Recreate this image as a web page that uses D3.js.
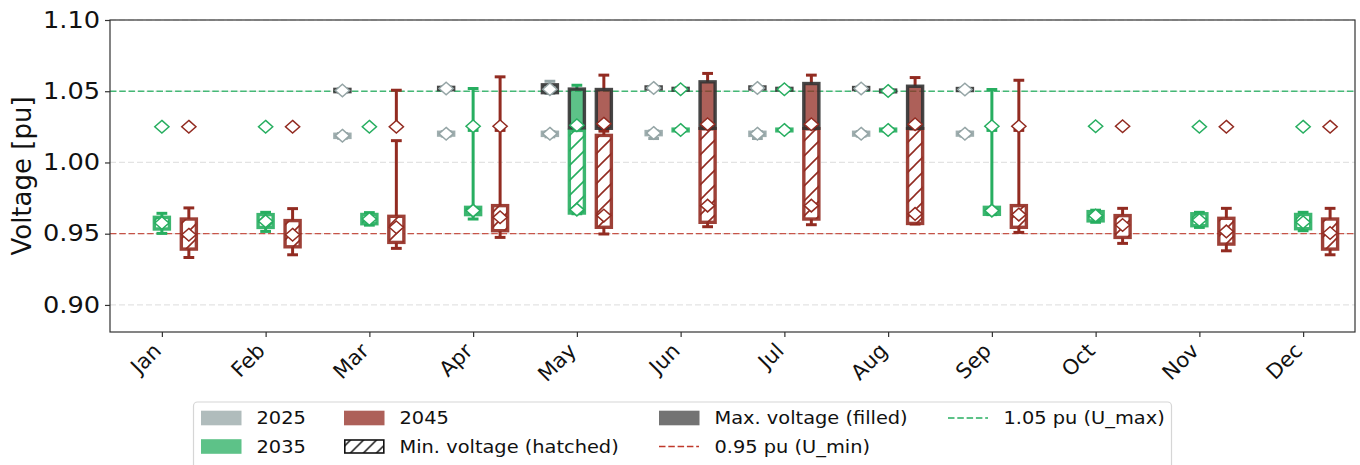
<!DOCTYPE html>
<html>
<head>
<meta charset="utf-8">
<script src="https://cdn.jsdelivr.net/npm/d3@7"></script>
<style>
  html, body { margin: 0; padding: 0; background: #fff; }
  text { font-family: "DejaVu Sans", sans-serif; fill: #111; }
</style>
</head>
<body>
<div id="chart"></div>
<script>
// Categories
const months = ['Jan', 'Feb', 'Mar', 'Apr', 'May', 'Jun', 'Jul', 'Aug', 'Sep', 'Oct', 'Nov', 'Dec'];
const scenarios = ['2025', '2035', '2045'];
const scenarioColors = ['#95a5a6', '#27ae60', '#922b21'];
const yTicks = [0.90, 0.95, 1.00, 1.05, 1.10];
const uMax = 1.05;
const uMin = 0.95;

// Box stats per month: [whisker low, q1, q3, whisker high, mean]
const max2025 = [null, null,
  [1.0495, 1.0497, 1.0513, 1.0515, 1.0505],
  [1.0508, 1.0511, 1.0527, 1.0530, 1.0519],
  [1.0485, 1.0490, 1.0545, 1.0570, 1.0514],
  [1.0513, 1.0516, 1.0530, 1.0533, 1.0523],
  [1.0513, 1.0516, 1.0530, 1.0533, 1.0523],
  [1.0510, 1.0512, 1.0526, 1.0529, 1.0519],
  [1.0503, 1.0505, 1.0519, 1.0521, 1.0512],
  null, null, null];
const min2025 = [null, null,
  [1.0170, 1.0176, 1.0198, 1.0203, 1.0188],
  [1.0185, 1.0192, 1.0212, 1.0216, 1.0202],
  [1.0180, 1.0190, 1.0212, 1.0216, 1.0202],
  [1.0168, 1.0195, 1.0217, 1.0221, 1.0207],
  [1.0168, 1.0190, 1.0212, 1.0216, 1.0202],
  [1.0185, 1.0192, 1.0212, 1.0216, 1.0202],
  [1.0185, 1.0192, 1.0212, 1.0216, 1.0202],
  null, null, null];

const max2035 = [
  [1.0251, 1.0251, 1.0251, 1.0251, 1.0251],
  [1.0251, 1.0251, 1.0251, 1.0251, 1.0251],
  [1.0251, 1.0251, 1.0251, 1.0251, 1.0251],
  [1.0250, 1.0252, 1.0252, 1.0519, 1.0254],
  [1.0240, 1.0243, 1.0515, 1.0542, 1.0261],
  [1.0505, 1.0508, 1.0520, 1.0523, 1.0514],
  [1.0505, 1.0508, 1.0520, 1.0523, 1.0514],
  [1.0493, 1.0496, 1.0508, 1.0511, 1.0502],
  [1.0250, 1.0252, 1.0252, 1.0512, 1.0254],
  [1.0254, 1.0254, 1.0254, 1.0254, 1.0254],
  [1.0251, 1.0251, 1.0251, 1.0251, 1.0251],
  [1.0251, 1.0251, 1.0251, 1.0251, 1.0251]];
const min2035 = [
  [0.9502, 0.9533, 0.9615, 0.9643, 0.9575],
  [0.9516, 0.9544, 0.9634, 0.9650, 0.9587],
  [0.9560, 0.9570, 0.9635, 0.9648, 0.9603],
  [0.9603, 0.9634, 0.9685, 1.0225, 0.9662],
  [0.9640, 0.9645, 1.0225, 1.0232, 0.9669],
  [1.0220, 1.0222, 1.0234, 1.0236, 1.0228],
  [1.0220, 1.0222, 1.0234, 1.0236, 1.0228],
  [1.0220, 1.0222, 1.0234, 1.0236, 1.0228],
  [0.9634, 0.9636, 0.9685, 1.0225, 0.9662],
  [0.9580, 0.9590, 0.9655, 0.9665, 0.9627],
  [0.9544, 0.9556, 0.9640, 0.9650, 0.9596],
  [0.9521, 0.9535, 0.9635, 0.9650, 0.9580]];

const max2045 = [
  [1.0251, 1.0251, 1.0251, 1.0251, 1.0251],
  [1.0251, 1.0251, 1.0251, 1.0251, 1.0251],
  [1.0250, 1.0252, 1.0252, 1.0507, 1.0251],
  [1.0250, 1.0252, 1.0252, 1.0601, 1.0254],
  [1.0237, 1.0240, 1.0512, 1.0613, 1.0272],
  [1.0237, 1.0240, 1.0566, 1.0625, 1.0268],
  [1.0237, 1.0240, 1.0554, 1.0613, 1.0268],
  [1.0237, 1.0240, 1.0535, 1.0596, 1.0268],
  [1.0250, 1.0252, 1.0252, 1.0577, 1.0254],
  [1.0254, 1.0254, 1.0254, 1.0254, 1.0254],
  [1.0251, 1.0251, 1.0251, 1.0251, 1.0251],
  [1.0251, 1.0251, 1.0251, 1.0251, 1.0251]];
const min2045 = [
  [0.9333, 0.9392, 0.9603, 0.9681, 0.9493],
  [0.9352, 0.9408, 0.9592, 0.9676, 0.9493],
  [0.9397, 0.9439, 0.9622, 1.0153, 0.9545],
  [0.9474, 0.9521, 0.9697, 1.0225, 0.9615],
  [0.9498, 0.9545, 1.0190, 1.0220, 0.9627],
  [0.9549, 0.9580, 1.0237, 1.0237, 0.9697],
  [0.9563, 0.9603, 1.0237, 1.0237, 0.9697],
  [0.9568, 0.9572, 1.0237, 1.0237, 0.9639],
  [0.9509, 0.9545, 0.9697, 1.0225, 0.9634],
  [0.9432, 0.9474, 0.9627, 0.9678, 0.9561],
  [0.9380, 0.9427, 0.9608, 0.9678, 0.9516],
  [0.9352, 0.9392, 0.9603, 0.9678, 0.9505]];

const maxSeries = [max2025, max2035, max2045];
const minSeries = [min2025, min2035, min2045];
const offsets = [-0.26, 0, 0.26];

const width = 1360;
const height = 465;
const margin = { top: 20, right: 5, bottom: 133, left: 110 };
// the picture is a bit wider than tall in its glyphs
const stretch = 1.14;

const svg = d3.select('#chart')
  .append('svg')
  .attr('width', width)
  .attr('height', height)
  .style('background', '#fff');

// Hatch patterns
const defs = svg.append('defs');
const addHatch = (id, color, size, sw) => {
  const p = defs.append('pattern')
    .attr('id', id)
    .attr('patternUnits', 'userSpaceOnUse')
    .attr('width', size)
    .attr('height', size);
  p.append('rect').attr('width', size).attr('height', size).attr('fill', '#fff');
  p.append('path')
    .attr('d', `M0,${size} L${size},0 M${-size / 4},${size / 4} L${size / 4},${-size / 4} M${size * 3 / 4},${size * 5 / 4} L${size * 5 / 4},${size * 3 / 4}`)
    .attr('stroke', color)
    .attr('stroke-width', sw);
};
scenarioColors.forEach((c, i) => addHatch(`hatch-${i}`, c, 15, 1.6));
addHatch('hatch-legend', '#111', 13, 1.5);

// Scales
const x = d3.scaleLinear()
  .domain([-0.5, 11.5])
  .range([margin.left, width - margin.right]);

const y = d3.scaleLinear()
  .domain([0.881, 1.10])
  .range([height - margin.bottom, margin.top]);

// Grid
svg.append('g')
  .selectAll('line')
  .data(yTicks)
  .join('line')
  .attr('x1', margin.left)
  .attr('x2', width - margin.right)
  .attr('y1', d => y(d))
  .attr('y2', d => y(d))
  .attr('stroke', '#e3e3e3')
  .attr('stroke-width', 1.2)
  .attr('stroke-dasharray', '6,3');

// Limit lines
const limits = [
  { v: uMax, color: '#27ae60' },
  { v: uMin, color: '#c0392b' }
];
svg.append('g')
  .selectAll('line')
  .data(limits)
  .join('line')
  .attr('x1', margin.left)
  .attr('x2', width - margin.right)
  .attr('y1', d => y(d.v))
  .attr('y2', d => y(d.v))
  .attr('stroke', d => d.color)
  .attr('stroke-opacity', 0.85)
  .attr('stroke-width', 1.3)
  .attr('stroke-dasharray', '6.5,2.8');

// Boxes
const boxW = 0.145;
const capW = 0.075;
const plot = svg.append('g');

const drawBox = (s, i, kind, si) => {
  if (!s) return;
  const [lo, q1, q3, hi, mean] = s;
  const cx = x(i + offsets[si]);
  const bw = x(boxW) - x(0);
  const cw = x(capW) - x(0);
  const color = scenarioColors[si];
  const g = plot.append('g');

  // Whiskers and caps
  [[q3, hi], [q1, lo]].forEach(([a, b]) => {
    if (Math.abs(a - b) < 1e-6) return;
    g.append('line')
      .attr('x1', cx).attr('x2', cx)
      .attr('y1', y(a)).attr('y2', y(b))
      .attr('stroke', color)
      .attr('stroke-width', 3);
    g.append('line')
      .attr('x1', cx - cw / 2).attr('x2', cx + cw / 2)
      .attr('y1', y(b)).attr('y2', y(b))
      .attr('stroke', color)
      .attr('stroke-width', 3)
      .attr('stroke-linecap', 'square');
  });

  if (q3 - q1 > 1e-6) {
    const r = g.append('rect')
      .attr('x', cx - bw / 2)
      .attr('y', y(q3))
      .attr('width', bw)
      .attr('height', y(q1) - y(q3));
    if (kind === 'max') {
      r.attr('fill', color)
        .attr('fill-opacity', 0.75)
        .attr('stroke', '#333')
        .attr('stroke-opacity', 0.9)
        .attr('stroke-width', 3.4);
    } else {
      r.attr('fill', `url(#hatch-${si})`)
        .attr('stroke', color)
        .attr('stroke-opacity', 0.9)
        .attr('stroke-width', 3.4);
    }
  }
  return { cx, mean, color };
};

const means = [];
months.forEach((m, i) => {
  scenarios.forEach((sc, si) => {
    const a = drawBox(minSeries[si][i], i, 'min', si);
    if (a) means.push(a);
    const b = drawBox(maxSeries[si][i], i, 'max', si);
    if (b) means.push(b);
  });
});

// Mean markers
const dw = 7.1;
const dh = 6.3;
svg.append('g')
  .selectAll('path')
  .data(means)
  .join('path')
  .attr('d', d => {
    const cy = y(d.mean);
    return `M${d.cx},${cy - dh} L${d.cx + dw},${cy} L${d.cx},${cy + dh} L${d.cx - dw},${cy} Z`;
  })
  .attr('fill', '#fff')
  .attr('stroke', d => d.color)
  .attr('stroke-width', 1.5);

// Axes
const yAxis = svg.append('g')
  .attr('transform', `translate(${margin.left},0)`)
  .call(d3.axisLeft(y).tickValues(yTicks).tickFormat(d3.format('.2f')).tickSize(5));
yAxis.selectAll('text')
  .style('font-size', '22.5px')
  .attr('fill', '#111')
  .attr('x', 0)
  .attr('transform', `translate(-10,0) scale(${stretch},1)`);

const xAxis = svg.append('g')
  .attr('transform', `translate(0,${height - margin.bottom})`)
  .call(d3.axisBottom(x).tickValues(d3.range(months.length)).tickFormat(i => months[i]).tickSize(5));
xAxis.selectAll('text')
  .style('font-size', '21px')
  .attr('fill', '#111')
  .attr('text-anchor', 'end')
  .attr('y', 0)
  .attr('dy', '0.75em')
  .attr('transform', 'translate(-11,9) rotate(-45)');

[yAxis, xAxis].forEach(a => {
  a.select('.domain').remove();
  a.selectAll('.tick line').attr('stroke', '#333').attr('stroke-width', 1.2);
});

// Frame
svg.append('rect')
  .attr('x', margin.left)
  .attr('y', margin.top)
  .attr('width', width - margin.right - margin.left)
  .attr('height', height - margin.bottom - margin.top)
  .attr('fill', 'none')
  .attr('stroke', '#333')
  .attr('stroke-width', 1.2);

// Y label
svg.append('text')
  .attr('transform', `translate(31,${(margin.top + height - margin.bottom) / 2}) rotate(-90)`)
  .attr('text-anchor', 'middle')
  .style('font-size', '26px')
  .text('Voltage [pu]');

// Legend
const legend = svg.append('g');
legend.append('rect')
  .attr('x', 193.5)
  .attr('y', 402)
  .attr('width', 978)
  .attr('height', 80)
  .attr('rx', 4)
  .attr('fill', '#fff')
  .attr('stroke', '#d6d6d6')
  .attr('stroke-width', 1.2);

const legendItems = [
  { label: scenarios[0], type: 'patch', color: scenarioColors[0], col: 0, row: 0 },
  { label: scenarios[1], type: 'patch', color: scenarioColors[1], col: 0, row: 1 },
  { label: scenarios[2], type: 'patch', color: scenarioColors[2], col: 1, row: 0 },
  { label: 'Min. voltage (hatched)', type: 'hatch', col: 1, row: 1 },
  { label: 'Max. voltage (filled)', type: 'patch', color: '#444', col: 2, row: 0 },
  { label: '0.95 pu (U_min)', type: 'line', color: '#c0392b', col: 2, row: 1 },
  { label: '1.05 pu (U_max)', type: 'line', color: '#27ae60', col: 3, row: 0 }
];
const colX = [201, 344, 659, 948];
const rowY = [418, 446.5];

legendItems.forEach(d => {
  const g = legend.append('g')
    .attr('transform', `translate(${colX[d.col]},${rowY[d.row]})`);
  if (d.type === 'patch') {
    g.append('rect')
      .attr('x', 0).attr('y', -7.3)
      .attr('width', 40.5).attr('height', 14.6)
      .attr('fill', d.color)
      .attr('fill-opacity', 0.75);
  } else if (d.type === 'hatch') {
    g.append('rect')
      .attr('x', 0.8).attr('y', -6.5)
      .attr('width', 39).attr('height', 13)
      .attr('fill', 'url(#hatch-legend)')
      .attr('stroke', '#111')
      .attr('stroke-width', 1.6);
  } else {
    g.append('line')
      .attr('x1', 0).attr('x2', 40)
      .attr('y1', 0).attr('y2', 0)
      .attr('stroke', d.color)
      .attr('stroke-width', 1.3)
      .attr('stroke-dasharray', '6.5,2.8');
  }
  g.append('text')
    .attr('transform', `translate(55.5,0) scale(${stretch},1)`)
    .attr('dy', '0.36em')
    .style('font-size', '17px')
    .text(d.label);
});
</script>
</body>
</html>
